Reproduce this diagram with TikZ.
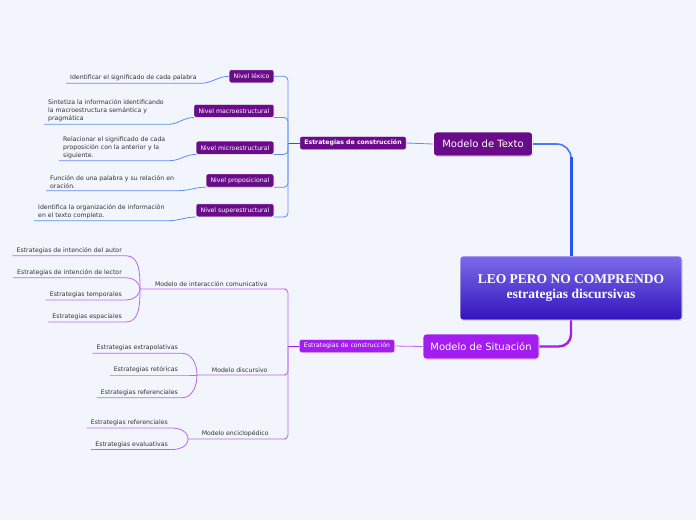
\documentclass[tikz,border=0pt]{standalone}
\usepackage{fontspec}
\setmainfont{DejaVu Sans}
\newfontfamily\titlefont{Liberation Serif}
\usetikzlibrary{positioning,shadows}
\definecolor{bgc}{HTML}{F3F5FD}
\definecolor{txtc}{HTML}{333333}
\definecolor{plum}{HTML}{6A0C8A}
\definecolor{vio}{HTML}{A41DF0}
\definecolor{blin}{HTML}{5E8EF6}
\definecolor{bmain}{HTML}{1E56FF}
\definecolor{plin}{HTML}{B868F2}
\definecolor{ctop}{HTML}{7B6BEA}
\definecolor{cmid}{HTML}{3A22C6}
\definecolor{cbot}{HTML}{3214BC}
\newcommand\leaffont{\fontsize{6.2}{8}\selectfont}
\tikzset{
leaf/.style={font=\leaffont, text=txtc, inner xsep=4pt, inner ysep=2pt, align=left}, % underlined texts
midleaf/.style={font=\leaffont, text=txtc, inner xsep=0pt, inner ysep=2pt}, % underlined middle topics
box/.style={font=\leaffont, text=white, rounded corners=2pt, minimum height=13pt, inner xsep=4.5pt, inner ysep=0pt, draw=white, line width=0.4pt, drop shadow={opacity=0.2, shadow xshift=0.5pt, shadow yshift=-0.5pt}}, % small coloured boxes
topic/.style={font=\fontsize{10}{12}\selectfont, text=white, rounded corners=3pt, draw=white, line width=0.8pt, drop shadow={opacity=0.3, shadow xshift=0.8pt, shadow yshift=-0.8pt}}, % main topics
bline/.style={draw=blin, line width=0.8pt}, % blue connectors
pline/.style={draw=plin, line width=0.8pt}, % purple connectors
}

\begin{document}
\begin{tikzpicture}[x=1pt, y=-1pt]
\fill[bgc] (0,0) rectangle (696,520);

% central topic
\node[rounded corners=3pt, top color=ctop, middle color=cmid, bottom color=cbot, draw=white, line width=0.6pt, minimum width=222pt, minimum height=64pt, text=white, align=center, font=\titlefont\bfseries\fontsize{13.5}{15.5}\selectfont, drop shadow={opacity=0.25, shadow xshift=0.8pt, shadow yshift=-0.8pt}] (center) at (571,288) {LEO PERO NO COMPRENDO\\estrategias discursivas};

\node[topic, fill=plum, minimum width=99pt, minimum height=24pt] (texto) at (483,144) {Modelo de Texto};
\node[topic, fill=vio, minimum width=116pt, minimum height=25pt] (situ) at (481,346.5) {Modelo de Situación};

\coordinate (bend) at (571,157);
\draw[draw=bmain!80, line width=1.6pt, rounded corners=14pt] (texto.east) -| (center.north);
\draw[draw=bmain, line width=3pt] (bend) -- (center.north);
\draw[draw=vio, line width=2.4pt, rounded corners=12pt] (center.south) |- (situ.east);

% Modelo de Texto
\node[box, fill=plum, font=\leaffont\bfseries] (estA) at (353,143) {Estrategias de construcción};
\draw[bline] (estA.east) -- (texto.west);
\coordinate (jt) at (288,143);
\draw[draw=bmain, line width=1pt] (estA.west) -- (jt);

\node[box, fill=plum, anchor=east] (lexico) at (274,76.3) {Nivel léxico};
\node[box, fill=plum, anchor=east] (macro) at (274,110.8) {Nivel macroestructural};
\node[box, fill=plum, anchor=east] (micro) at (274,147.7) {Nivel microestructural};
\node[box, fill=plum, anchor=east] (prop) at (274,180.5) {Nivel proposicional};
\node[box, fill=plum, anchor=east] (super) at (274,210.3) {Nivel superestructural};

\draw[bline, rounded corners=4pt] (jt) |- (lexico.east);
\draw[bline, rounded corners=4pt] (jt) |- (macro.south east);
\draw[bline, rounded corners=4pt] (jt) |- (micro.south east);
\draw[bline, rounded corners=4pt] (jt) |- (prop.south east);
\draw[bline, rounded corners=4pt] (jt) |- (super.south east);

\node[leaf, anchor=south west] (tl1) at (66,83.3) {Identificar el significado de cada palabra};
\node[leaf, anchor=south west] (tl2) at (44,124.3) {Sintetiza la información identificando\\la macroestructura semántica y\\pragmática};
\node[leaf, anchor=south west] (tl3) at (59,160.7) {Relacionar el significado de cada\\proposición con la anterior y la\\siguiente.};
\node[leaf, anchor=south west] (tl4) at (46,190.7) {Función de una palabra y su relación en\\oración.};
\node[leaf, anchor=south west] (tl5) at (34,220.7) {Identifica la organización de información\\en el texto completo.};

\draw[bline] (tl1.south west) -- (tl1.south east) to[out=0,in=180] (lexico.west);
\draw[bline] (tl2.south west) -- (tl2.south east) to[out=0,in=180] (macro.south west);
\draw[bline] (tl3.south west) -- (tl3.south east) to[out=0,in=180] (micro.south west);
\draw[bline] (tl4.south west) -- (tl4.south east) to[out=0,in=180] (prop.south west);
\draw[bline] (tl5.south west) -- (tl5.south east) to[out=0,in=180] (super.south west);

% Modelo de Situacion
\node[box, fill=vio] (estB) at (347,346) {Estrategias de construcción};
\draw[pline] (estB.east) -- (situ.west);
\coordinate (js) at (288,346);
\draw[draw=vio, line width=1pt] (estB.west) -- (js);

\node[midleaf, anchor=south west, minimum width=142pt] (mic) at (140,289) {Modelo de interacción comunicativa};
\node[midleaf, anchor=south west, minimum width=85pt] (mdis) at (197,375) {Modelo discursivo};
\node[midleaf, anchor=south west, minimum width=94pt] (menc) at (188,439) {Modelo enciclopédico};

\draw[pline, rounded corners=4pt] (js) |- (mic.south east) -- (mic.south west);
\draw[pline, rounded corners=4pt] (js) |- (mdis.south east) -- (mdis.south west);
\draw[pline, rounded corners=4pt] (js) |- (menc.south east) -- (menc.south west);

\node[leaf, anchor=south east] (ia) at (126,255.7) {Estrategias de intención del autor};
\node[leaf, anchor=south east] (ib) at (126,277.7) {Estrategias de intención de lector};
\node[leaf, anchor=south east] (ic) at (126,300) {Estrategias temporales};
\node[leaf, anchor=south east] (id) at (126,322) {Estrategias espaciales};
\draw[pline] (ia.south west) -- (ia.south east) to[out=0,in=90] (mic.south west);
\draw[pline] (ib.south west) -- (ib.south east) to[out=0,in=90] (mic.south west);
\draw[pline] (ic.south west) -- (ic.south east) to[out=0,in=-90] (mic.south west);
\draw[pline] (id.south west) -- (id.south east) to[out=0,in=-90] (mic.south west);

\node[leaf, anchor=south east] (da) at (182,353.3) {Estrategias extrapolativas};
\node[leaf, anchor=south east] (db) at (182,375) {Estrategias retóricas};
\node[leaf, anchor=south east] (dc) at (182,397.7) {Estrategias referenciales};
\draw[pline] (da.south west) -- (da.south east) to[out=0,in=90] (mdis.south west);
\draw[pline] (db.south west) -- (db.south east) -- (mdis.south west);
\draw[pline] (dc.south west) -- (dc.south east) to[out=0,in=-90] (mdis.south west);

\node[leaf, anchor=south east] (ea) at (172,428) {Estrategias referenciales};
\node[leaf, anchor=south east] (eb) at (172,449.5) {Estrategias evaluativas};
\draw[pline] (ea.south west) -- (ea.south east) to[out=0,in=90] (menc.south west);
\draw[pline] (eb.south west) -- (eb.south east) to[out=0,in=-90] (menc.south west);
\end{tikzpicture}
\end{document}
